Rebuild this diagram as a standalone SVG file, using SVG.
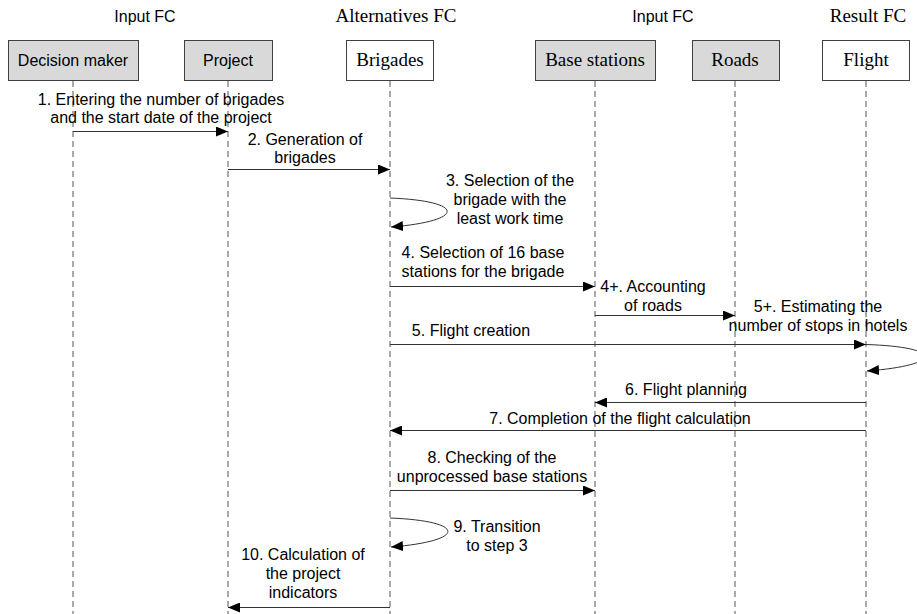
<svg xmlns="http://www.w3.org/2000/svg" width="917" height="614" viewBox="0 0 917 614">
<defs>
<style>
.sans{font-family:"Liberation Sans",Arial,sans-serif;font-size:16px;fill:#000}
.serif{font-family:"Liberation Serif","Times New Roman",serif;font-size:19px;fill:#000}
.m{text-anchor:middle}
.box{stroke:#404040;stroke-width:1}
.gray{fill:#d9d9d9}
.white{fill:#fff}
.life{stroke:#555;stroke-width:1;stroke-dasharray:6,4;fill:none}
.msg{stroke:#333;stroke-width:1;fill:none;marker-end:url(#ah)}
</style>
<marker id="ah" markerUnits="userSpaceOnUse" markerWidth="12" markerHeight="10" refX="12" refY="5" orient="auto">
<path d="M0,0 L12,5 L0,10 z" fill="#000"/>
</marker>
</defs>
<rect width="917" height="614" fill="#fff"/>

<g id="headers">
<text class="sans m" x="145" y="22">Input FC</text>
<text class="serif m" x="396" y="22">Alternatives FC</text>
<text class="sans m" x="663" y="22">Input FC</text>
<text class="serif m" x="868" y="22">Result FC</text>
</g>

<g id="lifelines">
<line class="life" x1="73" y1="81" x2="73" y2="614"/>
<line class="life" x1="228" y1="81" x2="228" y2="614"/>
<line class="life" x1="390" y1="81" x2="390" y2="614"/>
<line class="life" x1="595" y1="81" x2="595" y2="614"/>
<line class="life" x1="735" y1="81" x2="735" y2="614"/>
<line class="life" x1="866" y1="81" x2="866" y2="614"/>
</g>

<g id="node-decision-maker">
<rect class="box gray" x="8.5" y="40.5" width="130" height="40"/>
<text class="sans m" x="73" y="66">Decision maker</text>
</g>
<g id="node-project">
<rect class="box gray" x="184.5" y="40.5" width="88" height="40"/>
<text class="sans m" x="228" y="66">Project</text>
</g>
<g id="node-brigades">
<rect class="box white" x="346.5" y="40.5" width="87" height="40"/>
<text class="serif m" x="390" y="66">Brigades</text>
</g>
<g id="node-base-stations">
<rect class="box gray" x="535.5" y="40.5" width="120" height="40"/>
<text class="serif m" x="595" y="66">Base stations</text>
</g>
<g id="node-roads">
<rect class="box gray" x="692.5" y="40.5" width="87" height="40"/>
<text class="serif m" x="735" y="66">Roads</text>
</g>
<g id="node-flight">
<rect class="box white" x="822.5" y="40.5" width="87" height="40"/>
<text class="serif m" x="866" y="66">Flight</text>
</g>

<g id="connectors">
<line class="msg" x1="73" y1="131.5" x2="228" y2="131.5"/>
<line class="msg" x1="228" y1="169.5" x2="390" y2="169.5"/>
<path class="msg" d="M390,198 C466,201 466,221 391,227"/>
<line class="msg" x1="390" y1="286.5" x2="595" y2="286.5"/>
<line class="msg" x1="595" y1="315.5" x2="735" y2="315.5"/>
<line class="msg" x1="390" y1="344.5" x2="866" y2="344.5"/>
<path class="msg" d="M866,344.5 C944,347 944,365 867,371"/>
<line class="msg" x1="866" y1="402.5" x2="595" y2="402.5"/>
<line class="msg" x1="866" y1="430.5" x2="390" y2="430.5"/>
<line class="msg" x1="390" y1="490.5" x2="595" y2="490.5"/>
<path class="msg" d="M390,518 C467,521 467,541 391,547"/>
<line class="msg" x1="390" y1="607.5" x2="228" y2="607.5"/>
</g>

<g id="labels">
<text class="sans m" x="161" y="105">1. Entering the number of brigades</text>
<text class="sans m" x="161" y="123">and the start date of the project</text>
<text class="sans m" x="305" y="145">2. Generation of</text>
<text class="sans m" x="305" y="163">brigades</text>
<text class="sans m" x="510" y="186">3. Selection of the</text>
<text class="sans m" x="510" y="205">brigade with the</text>
<text class="sans m" x="510" y="224">least work time</text>
<text class="sans m" x="483" y="258">4. Selection of 16 base</text>
<text class="sans m" x="483" y="277">stations for the brigade</text>
<text class="sans m" x="653" y="292">4+. Accounting</text>
<text class="sans m" x="653" y="311">of roads</text>
<text class="sans m" x="818" y="312">5+. Estimating the</text>
<text class="sans m" x="818" y="331">number of stops in hotels</text>
<text class="sans m" x="471" y="336">5. Flight creation</text>
<text class="sans m" x="686" y="395">6. Flight planning</text>
<text class="sans m" x="620" y="424">7. Completion of the flight calculation</text>
<text class="sans m" x="492" y="463">8. Checking of the</text>
<text class="sans m" x="492" y="482">unprocessed base stations</text>
<text class="sans m" x="497" y="532">9. Transition</text>
<text class="sans m" x="497" y="551">to step 3</text>
<text class="sans m" x="303" y="560">10. Calculation of</text>
<text class="sans m" x="303" y="579">the project</text>
<text class="sans m" x="303" y="598">indicators</text>
</g>
</svg>
